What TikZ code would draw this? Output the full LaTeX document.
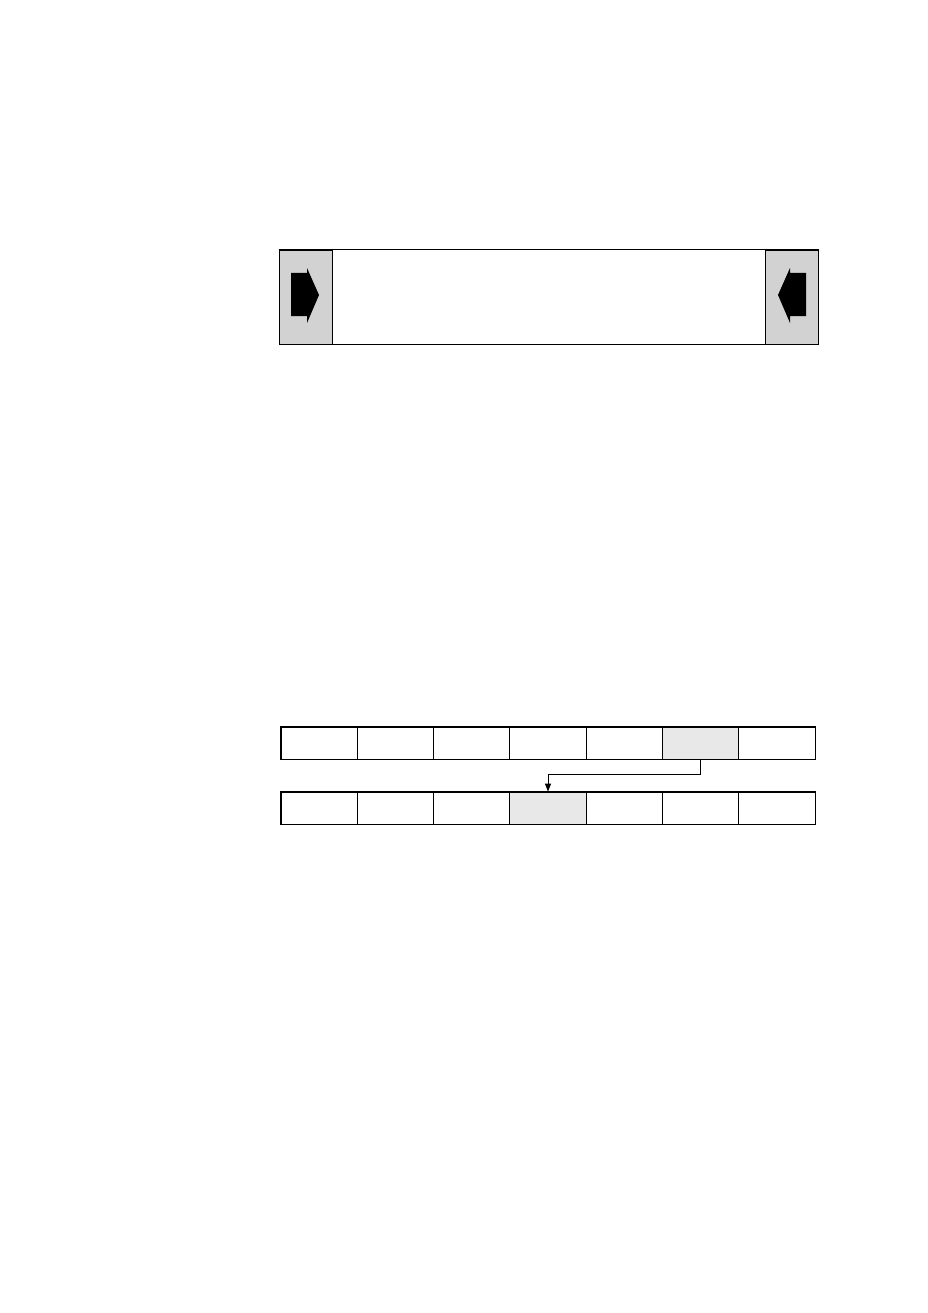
\documentclass[tikz,border=0pt]{standalone}
\usepackage{tikz}
\usetikzlibrary{arrows.meta}
\definecolor{panelgray}{RGB}{210,210,210}
\definecolor{cellgray}{RGB}{232,232,232}

\tikzset{
  panel/.style={draw,fill=panelgray,line width=0.8pt,minimum width=53pt,minimum height=94pt,inner sep=0pt},
  cell/.style={draw,line width=0.8pt,minimum width=76.29pt,minimum height=32pt,inner sep=0pt},
  hot/.style={cell,fill=cellgray},
  pointer/.style={fill=black}
}

\begin{document}
\begin{tikzpicture}[x=1pt,y=-1pt]
\useasboundingbox (0,0) rectangle (927,1313);
% top bar with the two end panels
\node [draw,line width=1pt,minimum width=539pt,minimum height=94pt,inner sep=0pt] (bar) at (548.5,297) {};
\node [panel,anchor=west] (leftend) at (bar.west) {};
\node [panel,anchor=east] (rightend) at (bar.east) {};
\draw [line width=1.6pt] (bar.north west) -- (bar.north east);
\fill [pointer] (291,273) -- (307,273) -- (307,268) -- (319,295) -- (307,323) -- (307,316) -- (291,316) -- cycle;
\fill [pointer] (806,273) -- (790,273) -- (790,268) -- (778,295) -- (790,323) -- (790,316) -- (806,316) -- cycle;

% two rows of seven cells
\foreach \i in {1,...,7} {
  \pgfmathsetmacro{\cx}{281+76.29*(\i-0.5)}
  \ifnum\i=6
    \node [hot] (up\i) at (\cx,743) {};
  \else
    \node [cell] (up\i) at (\cx,743) {};
  \fi
  \ifnum\i=4
    \node [hot] (dn\i) at (\cx,808) {};
  \else
    \node [cell] (dn\i) at (\cx,808) {};
  \fi
}
\draw [line width=1.4pt] (up1.north west) rectangle (up7.south east);
\draw [line width=1.4pt] (dn1.north west) rectangle (dn7.south east);

% move from the upper row to the lower one
\draw [line width=0.9pt,-{Triangle[length=8pt,width=6pt]}] (up6.south) -- ++(0,15) -| (dn4.north);
\end{tikzpicture}
\end{document}
